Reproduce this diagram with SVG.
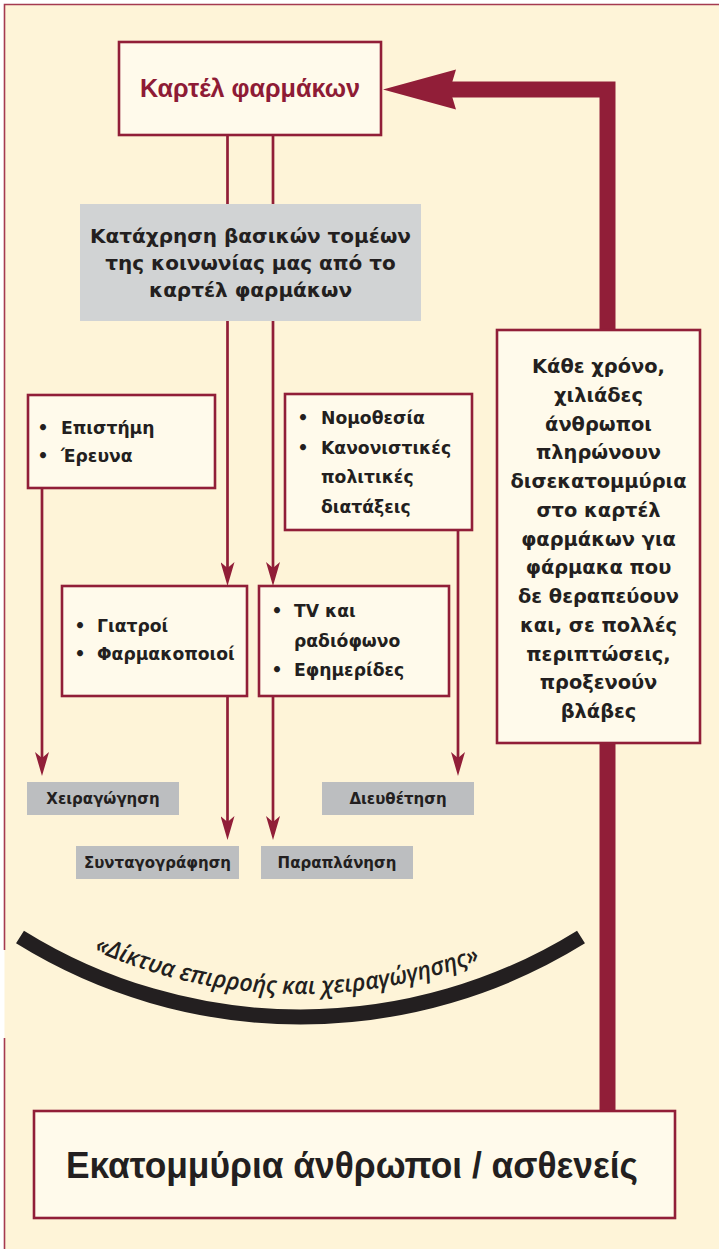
<svg xmlns="http://www.w3.org/2000/svg" width="719" height="1249" viewBox="0 0 719 1249">
  <defs>
    <style>
      .frame { stroke: #A53A50; stroke-width: 1.6; fill: none; }
      .box { fill: #FFFAEB; stroke: #911E38; stroke-width: 2.6; }
      .gray { fill: #D1D3D4; }
      .lbl { fill: #BCBEC0; }
      .thin { stroke: #911E38; stroke-width: 2.7; fill: none; }
      .thick { stroke: #911E38; stroke-width: 16; fill: none; stroke-linejoin: miter; }
      .dv { font-family: "DejaVu Sans", Verdana, sans-serif; font-weight: bold; fill: #231F20; }
      .lst { font-size: 17.2px; }
      .lb { font-size: 15px; text-anchor: middle; }
      .hv { font-family: "Liberation Sans", Arial, sans-serif; font-weight: bold; }
      .mid { text-anchor: middle; }
    </style>
    <marker id="ah" markerUnits="userSpaceOnUse" viewBox="0 0 24 14" markerWidth="24" markerHeight="14" refX="6" refY="7" orient="auto">
      <path d="M0,0 L24,7 L0,14 L6,7 Z" fill="#911E38"/>
    </marker>
    <path id="arcText" d="M60,933.4 A507,507 0 0 0 541,933.4"/>
  </defs>

  <rect x="0" y="0" width="719" height="1249" fill="#FFFFFF"/>
  <rect x="4.5" y="4.5" width="715" height="1245" fill="#FEF4D8"/>
  <path class="frame" d="M4.5,950 V4.5 H719 M4.5,1038 V1249"/>

  <g id="connectors">
    <line class="thin" x1="42" y1="488" x2="42" y2="758" marker-end="url(#ah)"/>
    <line class="thin" x1="227.5" y1="135" x2="227.5" y2="568" marker-end="url(#ah)"/>
    <line class="thin" x1="273" y1="135" x2="273" y2="568" marker-end="url(#ah)"/>
    <line class="thin" x1="227.5" y1="696" x2="227.5" y2="822" marker-end="url(#ah)"/>
    <line class="thin" x1="273" y1="696" x2="273" y2="822" marker-end="url(#ah)"/>
    <line class="thin" x1="458" y1="530" x2="458" y2="758" marker-end="url(#ah)"/>
    <path class="thick" d="M607.5,1111 V89.5 H448"/>
    <path d="M383,89.5 L456,69.5 L450,89.5 L456,109.5 Z" fill="#911E38"/>
  </g>

  <g id="cartel">
    <rect class="box" x="119" y="42" width="262" height="93"/>
    <text class="hv mid" x="250" y="97" font-size="26" fill="#8E1B35" textLength="220" lengthAdjust="spacingAndGlyphs">Καρτέλ φαρμάκων</text>
  </g>

  <g id="abuse">
    <rect class="gray" x="80" y="204" width="341" height="117"/>
    <text class="dv mid" font-size="20" x="250.5" y="243">Κατάχρηση βασικών τομέων</text>
    <text class="dv mid" font-size="20" x="250.5" y="270">της κοινωνίας μας από το</text>
    <text class="dv mid" font-size="20" x="250.5" y="297">καρτέλ φαρμάκων</text>
  </g>

  <g id="science">
    <rect class="box" x="28" y="395" width="187" height="93"/>
    <text class="dv lst mid" x="43" y="434">•</text>
    <text class="dv lst" x="61" y="434">Επιστήμη</text>
    <text class="dv lst mid" x="43" y="462">•</text>
    <text class="dv lst" x="61" y="462">Έρευνα</text>
  </g>

  <g id="law">
    <rect class="box" x="285" y="394" width="187" height="136"/>
    <text class="dv lst mid" x="303" y="424">•</text>
    <text class="dv lst" x="321" y="424">Νομοθεσία</text>
    <text class="dv lst mid" x="303" y="453.5">•</text>
    <text class="dv lst" x="321" y="453.5">Κανονιστικές</text>
    <text class="dv lst" x="321" y="483">πολιτικές</text>
    <text class="dv lst" x="321" y="512.5">διατάξεις</text>
  </g>

  <g id="doctors">
    <rect class="box" x="62" y="586" width="185" height="110"/>
    <text class="dv lst mid" x="80" y="632">•</text>
    <text class="dv lst" x="97" y="632">Γιατροί</text>
    <text class="dv lst mid" x="80" y="660">•</text>
    <text class="dv lst" x="97" y="660">Φαρμακοποιοί</text>
  </g>

  <g id="media">
    <rect class="box" x="259" y="586" width="190" height="110"/>
    <text class="dv lst mid" x="277" y="617">•</text>
    <text class="dv lst" x="294" y="617">TV και</text>
    <text class="dv lst" x="294" y="646.5">ραδιόφωνο</text>
    <text class="dv lst mid" x="277" y="676">•</text>
    <text class="dv lst" x="294" y="676">Εφημερίδες</text>
  </g>

  <g id="manipulation">
    <rect class="lbl" x="27" y="782" width="152" height="33"/>
    <text class="dv lb" x="103" y="803.5">Χειραγώγηση</text>
  </g>
  <g id="arrangement">
    <rect class="lbl" x="322" y="782" width="152" height="33"/>
    <text class="dv lb" x="398" y="803.5">Διευθέτηση</text>
  </g>
  <g id="prescribing">
    <rect class="lbl" x="76" y="846" width="163" height="33"/>
    <text class="dv lb" x="157.5" y="867.5">Συνταγογράφηση</text>
  </g>
  <g id="misleading">
    <rect class="lbl" x="261" y="846" width="152" height="33"/>
    <text class="dv lb" x="337" y="867.5">Παραπλάνηση</text>
  </g>

  <g id="yearly">
    <rect class="box" x="497" y="330" width="203" height="413"/>
    <g class="dv mid" font-size="19.4">
      <text x="598.5" y="373">Κάθε χρόνο,</text>
      <text x="598.5" y="401.8">χιλιάδες</text>
      <text x="598.5" y="430.5">άνθρωποι</text>
      <text x="598.5" y="459.3">πληρώνουν</text>
      <text x="598.5" y="488">δισεκατομμύρια</text>
      <text x="598.5" y="516.8">στο καρτέλ</text>
      <text x="598.5" y="545.5">φαρμάκων για</text>
      <text x="598.5" y="574.3">φάρμακα που</text>
      <text x="598.5" y="603">δε θεραπεύουν</text>
      <text x="598.5" y="631.8">και, σε πολλές</text>
      <text x="598.5" y="660.5">περιπτώσεις,</text>
      <text x="598.5" y="689.3">προξενούν</text>
      <text x="598.5" y="718">βλάβες</text>
    </g>
  </g>

  <g id="networks">
    <path d="M20,937 A531.75,531.75 0 0 0 581,937" fill="none" stroke="#231F20" stroke-width="15"/>
    <text font-family="'Open Sans', 'Noto Sans', sans-serif" font-weight="600" font-style="italic" font-size="24" fill="#231F20">
      <textPath href="#arcText" startOffset="38" textLength="396" lengthAdjust="spacingAndGlyphs">«Δίκτυα επιρροής και χειραγώγησης»</textPath>
    </text>
  </g>

  <g id="people">
    <rect class="box" x="34" y="1111" width="641" height="107"/>
    <text class="hv" x="66" y="1178" font-size="37" fill="#231F20" textLength="572" lengthAdjust="spacingAndGlyphs">Εκατομμύρια άνθρωποι / ασθενείς</text>
  </g>
</svg>
